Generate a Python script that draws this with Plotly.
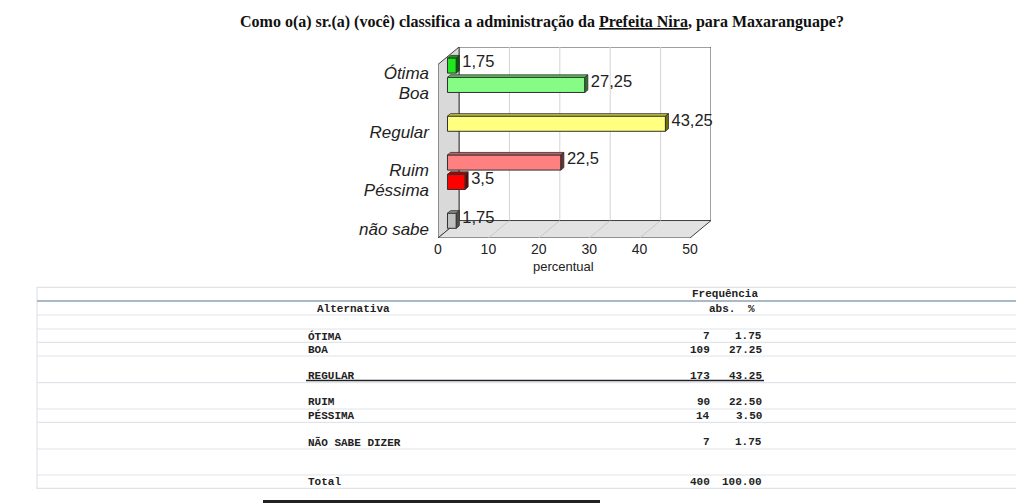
import plotly.graph_objects as go

# dados do gráfico
categorias = ["Ótima", "Boa", "Regular", "Ruim", "Péssima", "não sabe"]
percentuais = [1.75, 27.25, 43.25, 22.5, 3.5, 1.75]
eixo_x_ticks = [0, 10, 20, 30, 40, 50]

# dados da tabela
tab_alternativas = ["ÓTIMA", "BOA", "REGULAR", "RUIM", "PÉSSIMA", "NÃO SABE DIZER"]
tab_abs = [7, 109, 173, 90, 14, 7]
tab_pct = [1.75, 27.25, 43.25, 22.50, 3.50, 1.75]
tab_total_abs = 400
tab_total_pct = 100.00

# estilo / posicoes
slots = [0, 1, 3, 5, 6, 8]
cores = ["#1fe81f", "#86fb86", "#ffff80", "#ff8080", "#ff0000", "#c0c0c0"]
cores_topo = ["#10a010", "#5cc05c", "#c0c040", "#c06060", "#b00000", "#909090"]
cores_lado = ["#006000", "#307030", "#707000", "#703030", "#700000", "#505050"]

MARG = 8                    # margem do body da página
W, H = 1024 - MARG, 503 - MARG
DX, DY = 4.17, 0.9          # profundidade da caixa 3D (unidades de dados)
BAR_DX = 1.88               # plano das barras
EX, EY = 0.6, 0.13          # espessura 3D das barras
BW = 0.78
Y_TOP, Y_BOT = -0.954, 8.89
X_MAX = 50 + DX


def py(y):
    return 1 - (y - MARG) / H


def px(x):
    return (x - MARG) / W


def path(pts):
    return "M " + " L ".join(f"{a},{b}" for a, b in pts) + " Z"


fig = go.Figure()

# barras (face frontal)
fig.add_trace(go.Bar(
    orientation="h", y=slots, x=percentuais, base=BAR_DX, width=BW,
    marker=dict(color=cores, line=dict(color="#303030", width=1)),
    showlegend=False, hoverinfo="skip"))

# faces de topo e lateral
for s, v, ct, cl in zip(slots, percentuais, cores_topo, cores_lado):
    x1 = BAR_DX + v
    yt, yb = s - BW / 2, s + BW / 2
    topo = [(BAR_DX, yt), (x1, yt), (x1 + EX, yt - EY), (BAR_DX + EX, yt - EY), (BAR_DX, yt)]
    lado = [(x1, yt), (x1, yb), (x1 + EX, yb - EY), (x1 + EX, yt - EY), (x1, yt)]
    for pts, c in ((topo, ct), (lado, cl)):
        fig.add_trace(go.Scatter(
            x=[p[0] for p in pts], y=[p[1] for p in pts], mode="lines",
            fill="toself", fillcolor=c, line=dict(color="#303030", width=0.8),
            showlegend=False, hoverinfo="skip"))

# rótulos de valor
fig.add_trace(go.Scatter(
    x=[BAR_DX + v + EX + 0.6 for v in percentuais],
    y=[s - 0.12 for s in slots],
    text=[f"{v:g}".replace(".", ",") for v in percentuais],
    mode="text", textposition="middle right",
    textfont=dict(family="Arial, Liberation Sans", size=16.5, color="#222222"),
    showlegend=False, hoverinfo="skip", cliponaxis=False))

# caixa 3D
Y_BACK = Y_BOT - DY
shapes = []
shapes.append(dict(type="rect", xref="x", yref="y", x0=DX, x1=X_MAX, y0=Y_TOP, y1=Y_BACK,
                   fillcolor="white", line=dict(color="#404040", width=1), layer="below"))
for t in eixo_x_ticks[1:-1]:
    shapes.append(dict(type="line", xref="x", yref="y", x0=DX + t, x1=DX + t, y0=Y_TOP, y1=Y_BACK,
                       line=dict(color="#d4d4d4", width=1), layer="below"))
shapes.append(dict(type="path", xref="x", yref="y",
                   path=path([(0, Y_TOP + DY), (DX, Y_TOP), (DX, Y_BACK), (0, Y_BOT)]),
                   fillcolor="#d9d9d9", line=dict(color="#404040", width=1), layer="below"))
shapes.append(dict(type="path", xref="x", yref="y",
                   path=path([(0, Y_BOT), (50, Y_BOT), (X_MAX, Y_BACK), (DX, Y_BACK)]),
                   fillcolor="#e2e2e2", line=dict(color="#404040", width=1), layer="below"))
for t in eixo_x_ticks[1:-1]:
    shapes.append(dict(type="line", xref="x", yref="y", x0=t, x1=t + DX, y0=Y_BOT, y1=Y_BACK,
                       line=dict(color="#c8c8c8", width=1), layer="below"))

# tabela
linhas_tab = [301, 315, 329, 342.3, 356, 382.7, 409, 422.3, 449, 475]
shapes.append(dict(type="rect", xref="paper", yref="paper", x0=px(37), x1=px(1040),
                   y0=py(488.3), y1=py(287.3), line=dict(color="#dfe3e8", width=1.2)))
for y in linhas_tab:
    if y == 301:
        ln = dict(color="#aab9ca", width=2.2)
    else:
        ln = dict(color="#e0e5ec", width=1.2)
    shapes.append(dict(type="line", xref="paper", yref="paper", x0=px(37), x1=1,
                       y0=py(y), y1=py(y), line=ln))
shapes.append(dict(type="line", xref="paper", yref="paper", x0=px(306), x1=px(764),
                   y0=py(380.5), y1=py(380.5), line=dict(color="#222222", width=1.5)))
shapes.append(dict(type="line", xref="paper", yref="paper", x0=px(263), x1=px(600),
                   y0=py(501.5), y1=py(501.5), line=dict(color="#222222", width=3)))

mono = dict(family="Liberation Mono, Courier New, monospace", size=11, color="#222222")
anns = []


def txt(x, y, s, anchor="left", font=mono):
    anns.append(dict(x=px(x), y=py(y), xref="paper", yref="paper", text=s,
                     showarrow=False, xanchor=anchor, yanchor="middle", font=font))


txt(725, 294, "<b>Frequência</b>", "center")
txt(315, 308.7, "<b>Alternativa</b>")
txt(707, 308.7, "<b>abs.</b>")
txt(751.5, 308.7, "<b>%</b>", "center")
linhas_y = [336, 350, 376, 402.3, 415.7, 442.3]
for y, a, n, p in zip(linhas_y, tab_alternativas, tab_abs, tab_pct):
    txt(306, y, f"<b>{a}</b>")
    txt(712, y, f"<b>{n}</b>", "right")
    txt(764, y, f"<b>{p:.2f}</b>", "right")
txt(306, 481.7, "<b>Total</b>")
txt(712, 481.7, f"<b>{tab_total_abs}</b>", "right")
txt(764, 481.7, f"<b>{tab_total_pct:.2f}</b>", "right")

# título e título do eixo
anns.append(dict(x=px(542), y=py(22), xref="paper", yref="paper", showarrow=False,
                 xanchor="center", yanchor="middle",
                 text="<b>Como o(a) sr.(a) (você) classifica a administração da <u>Prefeita Nira</u>, para Maxaranguape?</b>",
                 font=dict(family="Liberation Serif, DejaVu Serif, serif", size=16, color="#111111")))
anns.append(dict(x=25, y=py(266), xref="x", yref="paper", showarrow=False,
                 xanchor="center", yanchor="middle", text="percentual",
                 font=dict(family="Arial, Liberation Sans", size=13, color="#222222")))

fig.update_layout(
    width=W, height=H, autosize=False,
    margin=dict(l=0, r=0, t=0, b=0),
    paper_bgcolor="white", plot_bgcolor="rgba(0,0,0,0)",
    shapes=shapes, annotations=anns, showlegend=False,
    xaxis=dict(domain=[px(438), px(711)], range=[0, X_MAX], tickvals=eixo_x_ticks,
               showgrid=False, zeroline=False, showline=False, ticks="",
               ticklabelstandoff=1, automargin=False,
               tickfont=dict(family="Arial, Liberation Sans", size=14, color="#222222")),
    yaxis=dict(domain=[py(238), py(47)], range=[Y_BOT, Y_TOP],
               tickvals=[s + 0.405 for s in slots], ticktext=categorias,
               showgrid=False, zeroline=False, showline=False, ticks="",
               ticklabelstandoff=8, automargin=False,
               tickfont=dict(family="Arial, Liberation Sans", size=17, color="#222222", style="italic")),
)

fig.write_html("out.html")
